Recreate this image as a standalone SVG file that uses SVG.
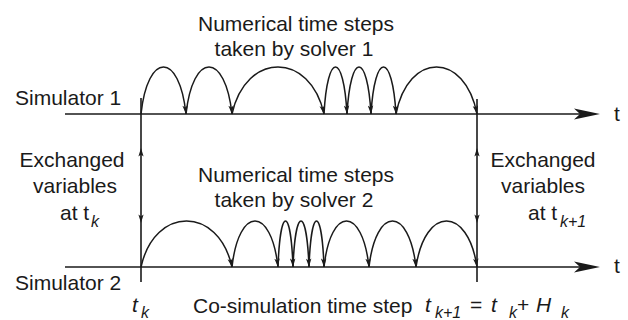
<svg xmlns="http://www.w3.org/2000/svg" width="628" height="320" viewBox="0 0 628 320">
<style>
text{font-family:"Liberation Sans",Arial,sans-serif;font-size:21px;fill:#1a1a1a}
.m{text-anchor:middle}
.i{font-style:italic}
.s{font-size:16px;font-style:italic}
.ax{stroke:#1a1a1a;stroke-width:1.6;fill:none}
.arc{stroke:#1a1a1a;stroke-width:1.5;fill:none;marker-end:url(#ah)}
.hd{fill:#1a1a1a}
</style>
<defs>
<marker id="ah" markerUnits="userSpaceOnUse" viewBox="-9 -3 10 6" refX="0" refY="0" markerWidth="10" markerHeight="6" orient="auto">
<path d="M0,0 L-8.5,-2.7 L-6.5,0 L-8.5,2.7 Z" fill="#1a1a1a"/>
</marker>
</defs>
<rect width="628" height="320" fill="#fff"/>
<g id="simulator1">
<line class="ax" x1="65" y1="114" x2="590" y2="114"/>
<polygon class="hd" points="600,114 574,108.5 580,114 574,119.5"/>
<text x="15" y="105">Simulator 1</text>
<text x="614" y="121">t</text>
</g>
<g id="simulator2">
<line class="ax" x1="65" y1="267" x2="590" y2="267"/>
<polygon class="hd" points="600,267 574,261.5 580,267 574,272.5"/>
<text x="15" y="290">Simulator 2</text>
<text x="614" y="273">t</text>
</g>
<g id="exchange-tk">
<line class="ax" x1="141" y1="98" x2="141" y2="282"/>
<polygon class="hd" points="141,148 138.4,156.5 141,154.5 143.6,156.5"/>
<polygon class="hd" points="141,223 138.4,214.5 141,216.5 143.6,214.5"/>
<text class="m" x="72" y="167">Exchanged</text>
<text class="m" x="75" y="193">variables</text>
<text x="60" y="220">at t</text>
<text class="s" x="91" y="227">k</text>
</g>
<g id="exchange-tk1">
<line class="ax" x1="477" y1="99" x2="477" y2="282"/>
<polygon class="hd" points="477,148 474.4,156.5 477,154.5 479.6,156.5"/>
<polygon class="hd" points="477,223 474.4,214.5 477,216.5 479.6,214.5"/>
<text class="m" x="543" y="167">Exchanged</text>
<text class="m" x="543" y="193">variables</text>
<text x="528" y="220">at t</text>
<text class="s" x="560" y="227">k+1</text>
</g>
<g id="solver1-label">
<text class="m" x="296" y="31">Numerical time steps</text>
<text class="m" x="294" y="56">taken by solver 1</text>
</g>
<g id="solver2-label">
<text class="m" x="296" y="182">Numerical time steps</text>
<text class="m" x="294" y="207">taken by solver 2</text>
</g>
<g id="time-labels">
<text class="i" x="132" y="312">t</text>
<text class="s" x="141" y="318">k</text>
<text x="193" y="313">Co-simulation time step</text>
<text class="i" x="425" y="312">t</text>
<text class="s" x="435" y="318">k+1</text>
<text x="470" y="312">=</text>
<text class="i" x="491" y="312">t</text>
<text class="s" x="509" y="318">k</text>
<text x="517" y="312">+</text>
<text class="i" x="536" y="312">H</text>
<text class="s" x="561" y="318">k</text>
</g>
<g id="connectors">
<path class="arc" d="M141,114 C147.75,51.3 179.25,51.3 186,114"/>
<path class="arc" d="M186,114 C192.9,51.3 225.1,51.3 232,114"/>
<path class="arc" d="M232,114 C245.8,51.3 310.2,51.3 324,114"/>
<path class="arc" d="M324,114 C327.45,51.3 343.55,51.3 347,114"/>
<path class="arc" d="M347,114 C350.6,51.3 367.4,51.3 371,114"/>
<path class="arc" d="M371,114 C374.75,51.3 392.25,51.3 396,114"/>
<path class="arc" d="M396,114 C408.15,51.3 464.85,51.3 477,114"/>
<path class="arc" d="M141,267 C154.65,205.7 218.35,205.7 232,267"/>
<path class="arc" d="M232,267 C238.9,205.7 271.1,205.7 278,267"/>
<path class="arc" d="M278,267 C280.25,205.7 290.75,205.7 293,267"/>
<path class="arc" d="M293,267 C295.4,205.7 306.6,205.7 309,267"/>
<path class="arc" d="M309,267 C311.25,205.7 321.75,205.7 324,267"/>
<path class="arc" d="M324,267 C330.75,205.7 362.25,205.7 369,267"/>
<path class="arc" d="M369,267 C376.05,205.7 408.95,205.7 416,267"/>
<path class="arc" d="M416,267 C425.15,205.7 467.85,205.7 477,267"/>
</g>
</svg>
